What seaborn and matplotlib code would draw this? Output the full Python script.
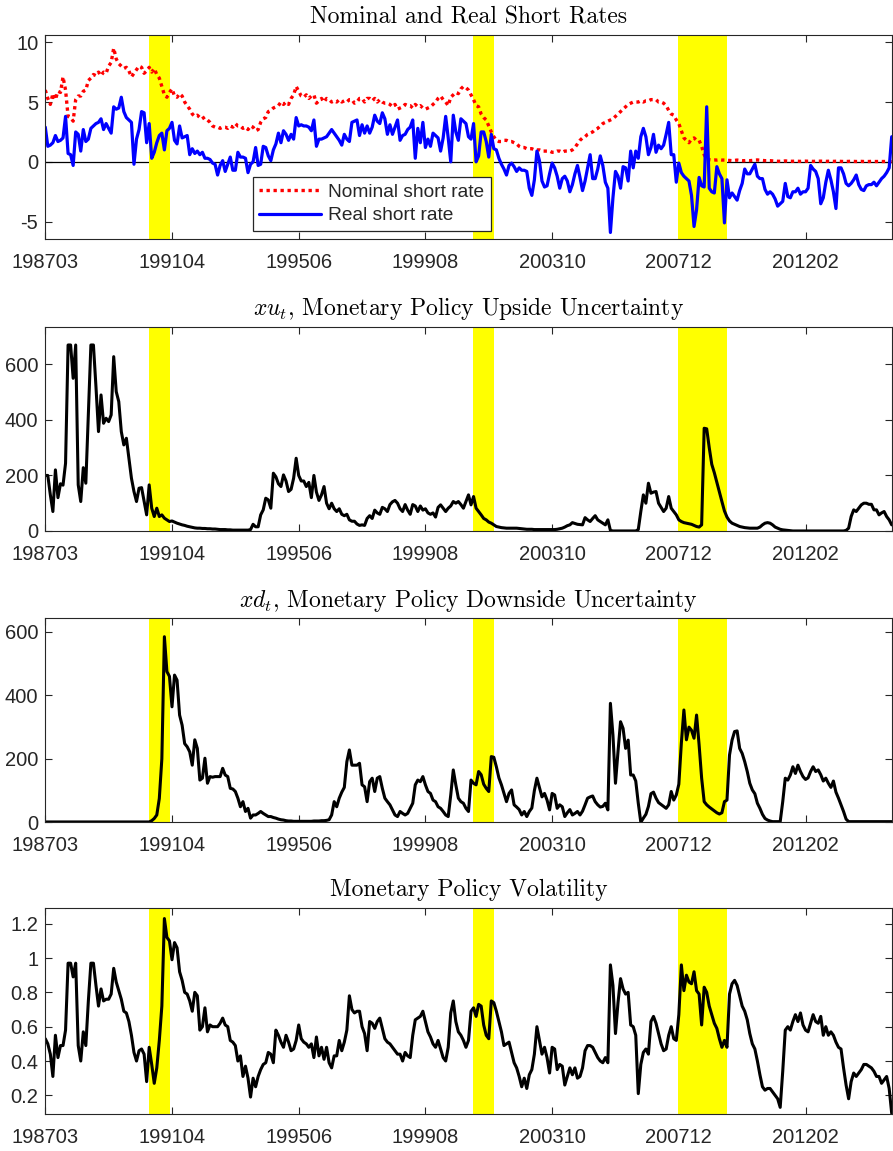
import numpy as np
import matplotlib
matplotlib.use("Agg")
import matplotlib.pyplot as plt
import seaborn as sns

# ---------------- data (monthly observations, index 0 = 198703) ----------------
tick_positions = [0, 50, 100, 150, 200, 250, 300]
tick_labels = ["198703", "199104", "199506", "199908", "200310", "200712", "201202"]
recessions = [(40.9, 49.2), (168.8, 176.9), (249.7, 269.0)]

nominal_rate = [
    6.0, 5.3, 4.8, 5.7, 5.2, 5.9, 5.8, 7.1, 6.0, 3.8,
    3.7, 3.4, 5.2, 5.5, 5.5, 5.9, 6.0, 6.8, 7.0, 7.3,
    7.2, 7.5, 7.2, 7.5, 7.4, 8.0, 8.3, 9.5, 8.6, 8.2,
    8.0, 7.8, 7.9, 7.6, 7.1, 7.4, 7.7, 8.0, 7.9, 7.4,
    7.6, 7.9, 7.5, 7.8, 7.3, 7.0, 6.3, 5.6, 5.4, 5.8,
    6.1, 5.5, 5.4, 5.7, 5.5, 5.0, 4.7, 4.4, 4.0, 3.8,
    3.9, 3.7, 3.8, 3.5, 3.5, 3.3, 3.0, 2.9, 2.9, 2.8,
    2.9, 2.9, 2.8, 3.0, 2.9, 3.2, 3.0, 3.0, 2.8, 2.9,
    2.7, 3.0, 2.9, 2.6, 2.7, 3.3, 3.6, 3.7, 4.2, 4.3,
    4.5, 4.6, 4.7, 5.0, 4.8, 5.0, 4.8, 5.3, 5.6, 6.3,
    5.9, 5.5, 5.4, 5.6, 5.3, 5.5, 5.6, 4.9, 5.1, 5.3,
    5.0, 5.3, 5.2, 5.0, 5.1, 5.0, 5.2, 5.0, 5.1, 5.0,
    5.2, 5.2, 4.9, 5.0, 5.3, 5.3, 5.0, 5.3, 5.3, 5.1,
    5.3, 5.0, 5.2, 5.0, 4.9, 4.9, 4.8, 4.6, 4.8, 4.4,
    4.5, 4.6, 4.8, 4.7, 4.7, 4.5, 4.8, 4.6, 4.7, 4.5,
    4.4, 4.5, 4.6, 4.8, 5.0, 5.3, 5.5, 5.2, 5.0, 4.7,
    5.4, 5.6, 5.8, 5.7, 6.1, 6.3, 6.2, 6.0, 5.6, 5.2,
    4.7, 4.6, 4.0, 3.7, 3.5, 3.0, 2.5, 2.1, 1.8, 1.7,
    1.7, 1.8, 1.8, 1.7, 1.7, 1.6, 1.5, 1.3, 1.2, 1.2,
    1.1, 1.1, 1.1, 1.0, 1.0, 1.0, 0.9, 0.9, 0.9, 0.9,
    0.8, 0.8, 0.9, 0.9, 0.8, 0.9, 0.9, 0.9, 1.0, 1.2,
    1.5, 1.8, 2.0, 2.1, 2.3, 2.4, 2.5, 2.7, 2.8, 3.0,
    3.2, 3.3, 3.4, 3.5, 3.6, 3.8, 4.0, 4.2, 4.4, 4.6,
    4.8, 4.9, 5.0, 5.0, 5.0, 5.1, 5.0, 5.1, 5.1, 5.2,
    5.2, 5.2, 5.0, 5.0, 4.9, 4.7, 4.3, 4.0, 3.9, 3.5,
    3.2, 2.6, 2.0, 1.8, 1.6, 1.9, 2.0, 1.8, 1.8, 1.3,
    0.6, 0.2, 0.18, 0.15, 0.16, 0.15, 0.18, 0.15, 0.15, 0.12,
    0.12, 0.10, 0.12, 0.15, 0.12, 0.10, 0.10, 0.12, 0.10, 0.12,
    0.15, 0.16, 0.14, 0.12, 0.10, 0.10, 0.10, 0.08, 0.06, 0.05,
    0.05, 0.05, 0.08, 0.06, 0.05, 0.05, 0.06, 0.05, 0.04, 0.05,
    0.06, 0.05, 0.05, 0.04, 0.05, 0.05, 0.06, 0.05, 0.04, 0.05,
    0.05, 0.04, 0.05, 0.05, 0.04, 0.03, 0.03, 0.04, 0.05, 0.04,
    0.03, 0.03, 0.04, 0.03, 0.03, 0.03, 0.04, 0.03, 0.03, 0.03,
    0.03, 0.03, 0.03, 0.02, 0.02,
]

real_rate = [
    2.9, 1.3, 1.4, 1.6, 2.2, 1.7, 1.8, 2.0, 3.8, 0.7,
    0.6, -0.3, 2.5, 2.3, 0.9, 2.7, 1.7, 1.9, 2.8, 3.0,
    3.2, 3.3, 3.6, 2.7, 3.2, 2.8, 2.4, 4.6, 4.4, 4.5,
    5.4, 4.2, 3.7, 3.5, 3.3, -0.2, 1.9, 2.7, 4.2, 4.1,
    1.6, 3.2, 0.3, 0.8, 1.6, 2.2, 2.4, 1.0, 2.6, 2.8,
    3.3, 1.8, 1.5, 3.0, 2.0, 2.1, 2.2, 0.6, 1.1, 0.7,
    0.9, 0.6, 0.8, 0.3, 0.3, 0.2, -0.1, -0.2, -1.1, -0.3,
    0.1, -0.8, -0.2, 0.4, -0.7, -0.7, 0.8, 0.4, 0.4, 0.3,
    -0.9, -0.2, 0.0, 1.2, -0.3, -0.2, 1.3, 1.2, 0.5, 0.1,
    1.0, 1.5, 2.4, 1.6, 2.6, 2.3, 1.8, 2.3, 1.9, 3.7,
    3.0, 3.1, 3.0, 3.0, 2.9, 2.6, 3.5, 1.3, 1.9, 1.9,
    2.0, 2.1, 2.4, 2.7, 2.4, 2.1, 1.8, 1.4, 2.3, 1.9,
    1.7, 3.3, 3.4, 3.5, 2.2, 3.1, 2.4, 3.0, 2.4, 2.9,
    3.9, 3.4, 3.2, 4.1, 3.6, 2.3, 3.1, 2.3, 2.9, 3.5,
    1.8, 2.2, 2.3, 2.7, 2.9, 3.5, 0.3, 2.8, 1.6, 3.3,
    1.2, 1.9, 1.3, 2.4, 2.2, 2.0, 0.9, 2.0, 3.8, 2.0,
    0.0, 3.9, 2.5, 1.8, 3.6, 3.4, 3.2, 2.1, 1.9, 3.2,
    0.0, 0.5, 2.5, 2.5, 1.7, 0.4, 2.3, 1.1, 1.0, 0.3,
    -0.2, -0.6, -1.1, -0.3, -0.1, -0.4, -0.8, -0.5, -0.7, -0.7,
    -0.8, -2.2, -2.8, -1.5, 0.9, 0.1, -1.6, -2.1, -2.0, -1.0,
    -0.1, -0.5, -1.2, -2.2, -1.4, -1.2, -1.6, -2.5, -1.9, -1.0,
    -0.3, -1.3, -2.4, -1.6, -0.5, 0.6, -1.4, -1.4, -0.6, 0.5,
    -0.3, -1.7, -2.2, -5.9, -3.0, -0.8, -1.2, -2.2, -0.4, -0.5,
    -1.6, 0.9, -0.5, 0.9, 0.3, 2.1, 2.8, 2.1, 0.6, 1.2,
    2.3, 0.8, 1.4, 1.1, 1.4, 2.3, 3.3, 0.6, 0.6, -1.7,
    -0.1, -0.9, -1.2, -1.4, -1.6, -2.8, -5.4, -4.0, -1.3, -2.0,
    -2.1, 4.6, -2.2, -2.5, -2.6, -0.4, -1.0, -1.4, -5.1, -1.5,
    -3.0, -2.6, -2.9, -3.2, -2.4, -1.8, -0.6, -1.0, -1.0, -0.6,
    -0.2, -1.2, -1.4, -1.4, -2.3, -2.7, -2.5, -2.7, -3.1, -3.7,
    -3.5, -3.3, -1.8, -2.9, -3.0, -2.5, -2.5, -2.2, -2.7, -2.5,
    -2.5, -2.2, -0.3, -0.6, -0.8, -1.4, -3.5, -3.0, -1.7, -0.7,
    -1.5, -2.5, -3.9, -0.5, -0.5, -1.0, -1.8, -2.0, -1.8, -1.5,
    -1.1, -1.9, -2.3, -2.4, -2.0, -1.9, -1.9, -1.7, -2.0, -1.7,
    -1.4, -1.2, -0.9, -0.5, 2.1,
]

upside_unc = [
    200, 200, 130, 70, 220, 120, 170, 165, 244, 670,
    670, 550, 670, 166, 106, 228, 172, 420, 670, 670,
    520, 358, 490, 388, 406, 394, 418, 628, 502, 466,
    358, 310, 334, 262, 190, 142, 106, 154, 156, 106,
    58, 166, 82, 52, 82, 52, 58, 46, 40, 34,
    36, 32, 28, 25, 22, 20, 17, 15, 13, 11,
    10, 10, 9, 9, 8, 8, 7, 7, 6, 5,
    5, 5, 4, 4, 3, 3, 3, 3, 3, 3,
    3, 5, 24, 15, 15, 58, 76, 118, 112, 82,
    208, 195, 170, 160, 202, 180, 142, 150, 190, 262,
    200, 180, 180, 160, 175, 120, 200, 140, 110, 130,
    160, 100, 80, 100, 80, 70, 80, 60, 55, 60,
    40, 35, 35, 25, 20, 22, 20, 45, 55, 45,
    75, 65, 60, 85, 80, 70, 95, 105, 110, 100,
    80, 70, 95, 75, 60, 95, 90, 70, 90, 75,
    80, 65, 60, 65, 50, 85, 94, 82, 70, 82,
    90, 106, 100, 106, 95, 82, 106, 130, 94, 124,
    82, 70, 58, 45, 40, 32, 28, 22, 16, 14,
    12, 11, 10, 10, 10, 10, 10, 9, 8, 7,
    6, 6, 6, 5, 5, 5, 5, 5, 5, 5,
    5, 5, 6, 8, 10, 14, 19, 22, 30, 27,
    24, 23, 22, 48, 40, 34, 45, 55, 40, 34,
    28, 22, 40, 2, 0, 0, 0, 0, 0, 0,
    0, 0, 0, 0, 5, 70, 130, 100, 172, 136,
    140, 142, 100, 85, 70, 82, 124, 82, 70, 58,
    40, 34, 30, 28, 26, 24, 20, 16, 14, 22,
    370, 368, 300, 240, 210, 175, 140, 106, 72, 50,
    36, 28, 24, 20, 16, 14, 12, 11, 10, 10,
    10, 10, 14, 22, 28, 30, 28, 22, 14, 10,
    6, 4, 3, 2, 1, 0, 0, 0, 0, 0,
    0, 0, 0, 0, 0, 0, 0, 0, 0, 0,
    0, 0, 0, 0, 0, 0, 2, 10, 52, 76,
    70, 82, 94, 100, 100, 96, 96, 76, 76, 58,
    65, 70, 52, 40, 22,
]

downside_unc = [
    1, 1, 1, 1, 1, 1, 1, 1, 1, 1,
    1, 1, 1, 1, 1, 1, 1, 1, 1, 1,
    1, 1, 1, 1, 1, 1, 1, 1, 1, 1,
    1, 1, 1, 1, 1, 1, 1, 1, 1, 1,
    1, 1, 5, 12, 23, 75, 200, 585, 475, 460,
    364, 464, 448, 338, 306, 248, 238, 222, 180, 260,
    233, 133, 139, 202, 123, 144, 142, 144, 144, 144,
    170, 149, 144, 107, 105, 97, 76, 49, 65, 34,
    44, 13, 23, 23, 28, 34, 28, 23, 18, 18,
    15, 13, 10, 8, 7, 5, 4, 4, 3, 3,
    3, 3, 3, 3, 3, 3, 4, 4, 4, 5,
    5, 6, 8, 23, 65, 49, 76, 95, 110, 191,
    228, 180, 180, 180, 186, 118, 112, 65, 128, 139,
    97, 139, 144, 107, 76, 65, 55, 39, 23, 18,
    34, 28, 23, 28, 44, 60, 118, 133, 128, 144,
    118, 97, 91, 70, 65, 49, 44, 34, 23, 18,
    86, 165, 118, 76, 65, 60, 44, 34, 133, 123,
    118, 160, 150, 120, 107, 97, 207, 205, 175, 140,
    118, 91, 65, 91, 102, 55, 48, 40, 23, 34,
    18, 34, 45, 100, 139, 110, 80, 91, 70, 39,
    91, 86, 44, 55, 49, 18, 30, 40, 23, 28,
    34, 23, 35, 55, 76, 80, 83, 65, 55, 48,
    50, 60, 39, 375, 275, 123, 223, 317, 296, 233,
    259, 149, 149, 130, 60, 0, 13, 25, 50, 90,
    95, 76, 62, 56, 50, 44, 55, 97, 70, 86,
    120, 250, 354, 260, 300, 290, 265, 338, 244, 139,
    65, 55, 48, 42, 36, 30, 26, 30, 65, 70,
    212, 259, 286, 288, 233, 217, 191, 160, 123, 102,
    90, 60, 44, 25, 12, 7, 4, 2, 2, 2,
    2, 65, 139, 133, 149, 175, 154, 180, 160, 144,
    135, 140, 160, 175, 160, 165, 150, 130, 139, 123,
    110, 130, 95, 76, 55, 34, 10, 2, 2, 2,
    2, 2, 2, 2, 2, 2, 2, 2, 2, 2,
    2, 2, 2, 2, 2,
]

volatility = [
    0.53, 0.50, 0.44, 0.31, 0.55, 0.42, 0.49, 0.49, 0.58, 0.97,
    0.97, 0.89, 0.97, 0.49, 0.40, 0.57, 0.49, 0.75, 0.97, 0.97,
    0.84, 0.72, 0.82, 0.75, 0.76, 0.76, 0.79, 0.94, 0.86, 0.81,
    0.76, 0.69, 0.68, 0.63, 0.55, 0.45, 0.40, 0.46, 0.47, 0.44,
    0.28, 0.48, 0.38, 0.27, 0.36, 0.52, 0.72, 1.23, 1.12, 1.10,
    0.99, 1.09, 1.06, 0.92, 0.87, 0.80, 0.79, 0.75, 0.69, 0.80,
    0.78, 0.58, 0.60, 0.71, 0.57, 0.61, 0.60, 0.60, 0.60, 0.62,
    0.65, 0.61, 0.60, 0.52, 0.51, 0.49, 0.40, 0.43, 0.31, 0.37,
    0.30, 0.19, 0.30, 0.25, 0.31, 0.35, 0.38, 0.39, 0.45, 0.44,
    0.39, 0.58, 0.55, 0.51, 0.48, 0.55, 0.51, 0.46, 0.47, 0.52,
    0.61, 0.53, 0.51, 0.50, 0.48, 0.50, 0.42, 0.54, 0.43, 0.48,
    0.41, 0.48, 0.39, 0.36, 0.43, 0.43, 0.52, 0.46, 0.51, 0.58,
    0.78, 0.70, 0.68, 0.69, 0.69, 0.60, 0.56, 0.46, 0.63, 0.62,
    0.59, 0.63, 0.65, 0.59, 0.53, 0.51, 0.50, 0.48, 0.46, 0.44,
    0.44, 0.40, 0.45, 0.43, 0.42, 0.55, 0.64, 0.65, 0.66, 0.69,
    0.63, 0.57, 0.54, 0.50, 0.48, 0.52, 0.47, 0.42, 0.40, 0.48,
    0.68, 0.75, 0.63, 0.57, 0.55, 0.52, 0.48, 0.52, 0.69, 0.71,
    0.66, 0.73, 0.72, 0.61, 0.55, 0.53, 0.75, 0.74, 0.69, 0.63,
    0.57, 0.49, 0.50, 0.51, 0.45, 0.39, 0.36, 0.31, 0.25, 0.30,
    0.24, 0.32, 0.35, 0.44, 0.60, 0.52, 0.44, 0.48, 0.42, 0.33,
    0.48, 0.47, 0.35, 0.38, 0.37, 0.26, 0.31, 0.36, 0.32, 0.36,
    0.30, 0.31, 0.36, 0.46, 0.49, 0.49, 0.48, 0.45, 0.42, 0.40,
    0.39, 0.42, 0.39, 0.96, 0.84, 0.56, 0.74, 0.88, 0.82, 0.79,
    0.80, 0.61, 0.60, 0.55, 0.21, 0.38, 0.45, 0.47, 0.44, 0.63,
    0.66, 0.62, 0.56, 0.50, 0.46, 0.47, 0.55, 0.60, 0.53, 0.52,
    0.67, 0.96, 0.81, 0.90, 0.86, 0.85, 0.92, 0.81, 0.79, 0.61,
    0.83, 0.80, 0.72, 0.67, 0.62, 0.59, 0.53, 0.48, 0.52, 0.48,
    0.79, 0.85, 0.87, 0.84, 0.78, 0.72, 0.69, 0.64, 0.56, 0.50,
    0.47, 0.40, 0.32, 0.25, 0.23, 0.24, 0.24, 0.22, 0.20, 0.18,
    0.13, 0.34, 0.58, 0.60, 0.58, 0.63, 0.67, 0.63, 0.68, 0.61,
    0.58, 0.57, 0.62, 0.67, 0.63, 0.62, 0.66, 0.55, 0.60, 0.55,
    0.57, 0.55, 0.51, 0.48, 0.47, 0.36, 0.26, 0.18, 0.28, 0.33,
    0.31, 0.33, 0.35, 0.38, 0.38, 0.37, 0.36, 0.34, 0.31, 0.31,
    0.27, 0.29, 0.31, 0.24, 0.095,
]

months = np.arange(len(real_rate))

# ---------------- style ----------------
sns.set_style("ticks")
plt.rcParams["font.family"] = ["Liberation Sans", "DejaVu Sans"]
plt.rcParams["mathtext.fontset"] = "cm"
plt.rcParams["axes.unicode_minus"] = False

AX_COL = "#262626"
TITLE_FONT = dict(family="cmr10", size=17, color="black")

fig = plt.figure(figsize=(8.93, 11.51), dpi=100)
left, width = 0.0507, 0.9487
boxes = [(0.7924, 0.1772), (0.5387, 0.1770), (0.2856, 0.1772), (0.0324, 0.1785)]
axes = [fig.add_axes([left, b, width, h]) for b, h in boxes]


def style_axis(ax, yticks, ylabels, ylim, title, pad):
    for a, b in recessions:
        ax.axvspan(a, b, color="#ffff00", lw=0, zorder=1.5)
    ax.set_xlim(0, len(months) - 1 + 0.3)
    ax.set_ylim(*ylim)
    ax.set_xticks(tick_positions)
    ax.set_xticklabels(tick_labels)
    ax.set_yticks(yticks)
    ax.set_yticklabels(ylabels)
    ax.tick_params(axis="both", direction="in", top=True, right=True,
                   length=4.8, width=0.8, color=AX_COL, labelcolor=AX_COL,
                   labelsize=14.5)
    ax.tick_params(axis="x", pad=10)
    ax.tick_params(axis="y", pad=5)
    for s in ax.spines.values():
        s.set_color(AX_COL)
        s.set_linewidth(0.8)
        s.set_zorder(5)
    ax.set_xlabel("")
    ax.set_ylabel("")
    ax.set_title(title, fontdict=TITLE_FONT, pad=pad)


# Panel 1: nominal and real short rates
ax = axes[0]
ax.axhline(0, color="black", lw=0.9, zorder=1)
sns.lineplot(x=months, y=nominal_rate, ax=ax, color="#ff0000", lw=2.4,
             linestyle=(0, (1, 1.1)), label="Nominal short rate", zorder=3)
sns.lineplot(x=months, y=real_rate, ax=ax, color="#0000ff", lw=2.3,
             label="Real short rate", zorder=3)
style_axis(ax, [-5, 0, 5, 10], ["-5", "0", "5", "10"], (-6.44, 10.6),
           "Nominal and Real Short Rates", 8.5)
leg = ax.legend(loc="lower left", bbox_to_anchor=(0.2448, 0.039),
                borderaxespad=0, fontsize=13.8, frameon=True, fancybox=False,
                framealpha=1, edgecolor=AX_COL, handlelength=3.2,
                handletextpad=0.4, labelspacing=0.3, borderpad=0.35)
leg.get_frame().set_linewidth(0.9)
leg.set_zorder(6)

# Panel 2: upside uncertainty
ax = axes[1]
sns.lineplot(x=months, y=upside_unc, ax=ax, color="black", lw=2.2, zorder=3)
style_axis(ax, [0, 200, 400, 600], ["0", "200", "400", "600"], (0, 734),
           r"$xu_t$, Monetary Policy Upside Uncertainty", 8.5)

# Panel 3: downside uncertainty
ax = axes[2]
sns.lineplot(x=months, y=downside_unc, ax=ax, color="black", lw=2.2, zorder=3)
style_axis(ax, [0, 200, 400, 600], ["0", "200", "400", "600"], (0, 643),
           r"$xd_t$, Monetary Policy Downside Uncertainty", 8.5)

# Panel 4: volatility
ax = axes[3]
sns.lineplot(x=months, y=volatility, ax=ax, color="black", lw=2.2, zorder=3)
style_axis(ax, [0.2, 0.4, 0.6, 0.8, 1.0, 1.2],
           ["0.2", "0.4", "0.6", "0.8", "1", "1.2"], (0.093, 1.29),
           "Monetary Policy Volatility", 8.5)

fig.savefig("out.png", dpi=100, facecolor="white")
